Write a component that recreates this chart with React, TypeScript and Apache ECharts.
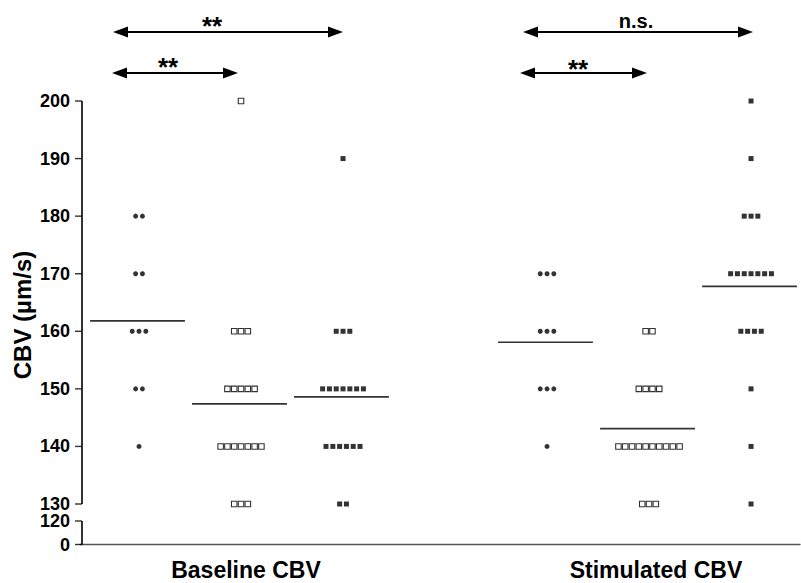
import React, { useEffect, useRef } from "react";
import * as echarts from "echarts";

// ---- data ----
const groupLabels = ["Baseline CBV", "Stimulated CBV"];
const yAxisTitle = "CBV (µm/s)";
const upperRange = [130, 200];
const upperTicks = [130, 140, 150, 160, 170, 180, 190, 200];
const lowerRange = [0, 120];
const lowerTicks = [0, 120];

const baselineCircles = [180, 180, 170, 170, 160, 160, 160, 150, 150, 140];
const baselineOpenSquares = [
  200, 160, 160, 160, 150, 150, 150, 150, 150, 140, 140, 140, 140, 140, 140, 140, 130, 130, 130,
];
const baselineFilledSquares = [
  190, 160, 160, 160, 150, 150, 150, 150, 150, 150, 150, 140, 140, 140, 140, 140, 140, 130, 130,
];
const stimulatedCircles = [170, 170, 170, 160, 160, 160, 150, 150, 150, 140];
const stimulatedOpenSquares = [
  160, 160, 150, 150, 150, 150, 140, 140, 140, 140, 140, 140, 140, 140, 140, 140, 130, 130, 130,
];
const stimulatedFilledSquares = [
  200, 190, 180, 180, 180, 170, 170, 170, 170, 170, 170, 170, 160, 160, 160, 160, 150, 140, 130,
];
const meanValues = [161.8, 147.4, 148.6, 158.1, 143.1, 167.8];
const annotationTexts = ["**", "**", "n.s.", "**"];

// ---- layout ----
const X_OFFSET = 0.559;
const columnSlots = [0, 1, 2, 4, 5, 6];
const X_MIN = -0.0196;
const X_MAX = 7.039;
const FONT = "'Liberation Sans', Arial, Helvetica, sans-serif";
const SPACING = 6.8;

type Col = { values: number[]; kind: "circle" | "open" | "filled" };
const columns: Col[] = [
  { values: baselineCircles, kind: "circle" },
  { values: baselineOpenSquares, kind: "open" },
  { values: baselineFilledSquares, kind: "filled" },
  { values: stimulatedCircles, kind: "circle" },
  { values: stimulatedOpenSquares, kind: "open" },
  { values: stimulatedFilledSquares, kind: "filled" },
];

function spread(values: number[], pos: number) {
  const counts: Record<number, number> = {};
  values.forEach((v) => (counts[v] = (counts[v] || 0) + 1));
  const seen: Record<number, number> = {};
  return values.map((v) => {
    const n = counts[v];
    const i = (seen[v] = seen[v] === undefined ? 0 : seen[v] + 1);
    return { value: [pos, v], symbolOffset: [(i - (n - 1) / 2) * SPACING, 0] };
  });
}

function arrow(x1: number, x2: number, y: number) {
  const hl = 15;
  const hh = 5.5;
  return [
    {
      type: "line",
      shape: { x1: x1 + hl - 2, y1: y, x2: x2 - hl + 2, y2: y },
      style: { stroke: "#000", lineWidth: 2.2 },
    },
    {
      type: "polygon",
      shape: { points: [[x1, y], [x1 + hl, y - hh], [x1 + hl, y + hh]] },
      style: { fill: "#000" },
    },
    {
      type: "polygon",
      shape: { points: [[x2, y], [x2 - hl, y - hh], [x2 - hl, y + hh]] },
      style: { fill: "#000" },
    },
  ];
}

function yAxisOpt(gridIndex: number, min: number, max: number, interval: number) {
  return {
    gridIndex,
    type: "value",
    min,
    max,
    interval,
    axisLine: { show: false },
    axisTick: { show: false },
    axisLabel: {
      color: "#000",
      fontFamily: FONT,
      fontWeight: "bold",
      fontSize: 18,
      margin: 10,
    },
    splitLine: { show: false },
  };
}

// axis spine + ticks drawn as series, through the axes' own scales
function spineSeries(grid: number, range: number[], ticks: number[]) {
  return [
    {
      type: "line",
      xAxisIndex: grid,
      yAxisIndex: grid,
      clip: false,
      silent: true,
      z: 10,
      symbol: "none",
      lineStyle: { color: "#000", width: 1.6 },
      data: [
        [0, range[0]],
        [0, range[1]],
      ],
    },
    {
      type: "scatter",
      xAxisIndex: grid,
      yAxisIndex: grid,
      clip: false,
      silent: true,
      z: 10,
      symbol: "rect",
      symbolSize: [7, 1.4],
      symbolOffset: [-3.5, 0],
      itemStyle: { color: "#000" },
      data: ticks.map((t) => [0, t]),
    },
  ];
}

export default function App() {
  const ref = useRef<HTMLDivElement>(null);
  useEffect(() => {
    if (!ref.current) return;
    const chart = echarts.init(ref.current, undefined, { renderer: "svg" });

    const pos = columnSlots.map((s) => s + X_OFFSET);

    const scatterSeries = columns.map((c, k) => ({
      type: "scatter",
      xAxisIndex: 0,
      yAxisIndex: 0,
      clip: false,
      symbol: c.kind === "circle" ? "circle" : "rect",
      symbolSize: c.kind === "open" ? 5.5 : 5,
      itemStyle:
        c.kind === "open"
          ? { color: "#fff", borderColor: "#000", borderWidth: 1.1 }
          : { color: "#000" },
      data: spread(c.values, pos[k]),
    }));

    const meanSeries = meanValues.map((m, k) => ({
      type: "line",
      xAxisIndex: 0,
      yAxisIndex: 0,
      symbol: "none",
      clip: false,
      lineStyle: { color: "#333", width: 1.6 },
      data: [
        [pos[k] - 0.48, m],
        [pos[k] + 0.45, m],
      ],
    }));

    const graphic: any[] = [
      {
        type: "text",
        x: 22,
        y: 315,
        rotation: Math.PI / 2,
        style: {
          text: yAxisTitle,
          fontFamily: FONT,
          fontWeight: "bold",
          fontSize: 24,
          fill: "#000",
          align: "center",
          verticalAlign: "middle",
        },
      },
      {
        type: "text",
        x: 246,
        y: 570,
        style: { text: groupLabels[0], fontFamily: FONT, fontWeight: "bold", fontSize: 23, fill: "#000", align: "center", verticalAlign: "middle" },
      },
      {
        type: "text",
        x: 656,
        y: 570,
        style: { text: groupLabels[1], fontFamily: FONT, fontWeight: "bold", fontSize: 23, fill: "#000", align: "center", verticalAlign: "middle" },
      },
      ...arrow(113, 343, 32),
      ...arrow(112, 238, 73),
      ...arrow(523, 753, 32),
      ...arrow(520, 647, 73),
    ];
    const annPos = [
      [212, 26, 26],
      [168, 67, 26],
      [636, 21, 20],
      [578, 69, 26],
    ];
    annotationTexts.forEach((t, i) => {
      graphic.push({
        type: "text",
        x: annPos[i][0],
        y: annPos[i][1],
        style: {
          text: t,
          fontFamily: FONT,
          fontWeight: "bold",
          fontSize: annPos[i][2],
          fill: "#000",
          align: "center",
          verticalAlign: "middle",
        },
      });
    });

    chart.setOption({
      animation: false,
      backgroundColor: "#fff",
      grid: [
        { left: 80, width: 720, top: 101, height: 403 },
        { left: 80, width: 720, top: 521, height: 23.5 },
      ],
      xAxis: [
        { gridIndex: 0, type: "value", min: X_MIN, max: X_MAX, show: false },
        {
          gridIndex: 1,
          type: "value",
          min: X_MIN,
          max: X_MAX,
          axisLine: { show: true, lineStyle: { color: "#555", width: 1.4 } },
          axisTick: { show: false },
          axisLabel: { show: false },
          splitLine: { show: false },
        },
      ],
      yAxis: [
        yAxisOpt(0, upperRange[0], upperRange[1], 10),
        yAxisOpt(1, lowerRange[0], lowerRange[1], 120),
      ],
      series: [
        ...spineSeries(0, upperRange, upperTicks),
        ...spineSeries(1, lowerRange, lowerTicks),
        ...meanSeries,
        ...scatterSeries,
      ],
      graphic,
    });
    return () => chart.dispose();
  }, []);
  return (
    <div
      ref={ref}
      style={{ position: "fixed", left: 0, top: 0, width: 801, height: 583, background: "#fff" }}
    />
  );
}
